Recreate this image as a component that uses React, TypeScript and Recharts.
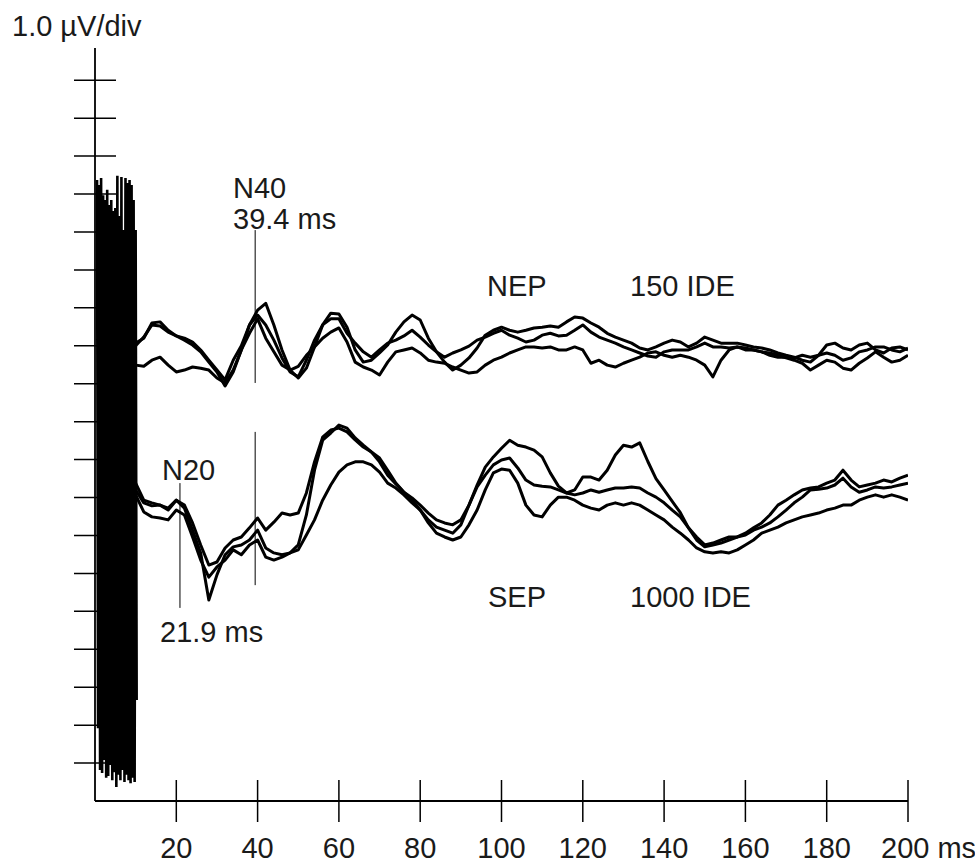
import { LineChart, Line, XAxis, YAxis, ReferenceLine } from "recharts";

const FONT = '"Liberation Sans", Arial, Helvetica, sans-serif';
const INK = "#000";
const TEXT = "#1a1a1a";

// sampling grid of the averaged traces (ms)
const TIMES = Array.from({ length: 96 }, (_, i) => 10 + i * 2);
// stimulus artefact is sampled finer (ms)
const ARTEFACT_TIMES = Array.from({ length: 40 }, (_, i) => 0.5 + i * 0.25);

// µV, relative to the artefact centre line
const ARTEFACT = [
  7.87, -6.58, 7.74, -7.68, 7.92, -7.76, 7.47, -7.42, 7.34, -7.89,
  7.61, -7.84, 7.21, -7.55, 7.34, -7.95, 7.05, -7.74, 7.13, -8.13,
  7.98, -7.81, 6.92, -7.95, 7.95, -7.68, 6.55, -8.0, 7.92, -7.81,
  7.79, -7.95, 7.87, -8.03, 7.74, -7.89, 7.34, -8.0, 6.55, -5.84,
];

// NEP, 150 IDE (µV, relative to baseline)
const NEP_1 = [
  0.0, 0.23, 0.55, 0.52, 0.36, 0.26, 0.2, 0.1, -0.11, -0.38,
  -0.64, -0.9, -0.38, 0.0, 0.55, 0.94, 1.12, 0.55, -0.11, -0.64,
  -0.85, -0.59, -0.03, 0.55, 0.86, 0.84, 0.49, -0.11, -0.43, -0.38,
  -0.19, 0.02, 0.36, 0.63, 0.81, 0.68, 0.2, -0.16, -0.43, -0.64,
  -0.51, -0.32, -0.06, 0.28, 0.41, 0.49, 0.41, 0.36, 0.41, 0.47,
  0.49, 0.52, 0.49, 0.63, 0.76, 0.73, 0.6, 0.49, 0.33, 0.23,
  0.15, 0.07, -0.06, -0.11, -0.03, 0.07, 0.15, 0.1, -0.03, 0.07,
  0.23, 0.15, 0.07, 0.07, 0.07, 0.02, -0.03, -0.06, -0.11, -0.19,
  -0.25, -0.3, -0.38, -0.43, -0.25, 0.02, 0.07, -0.06, -0.11, 0.02,
  0.07, -0.11, -0.19, -0.06, -0.03, -0.11,
];
const NEP_2 = [
  0.07, 0.2, 0.6, 0.63, 0.41, 0.26, 0.15, 0.02, -0.16, -0.43,
  -0.69, -1.06, -0.69, -0.11, 0.55, 0.81, 0.55, 0.15, -0.32, -0.69,
  -0.82, -0.38, 0.15, 0.55, 0.71, 0.71, 0.33, 0.07, -0.16, -0.3,
  -0.11, 0.07, 0.15, 0.26, 0.41, 0.23, 0.02, -0.16, -0.3, -0.19,
  -0.11, -0.01, 0.15, 0.23, 0.33, 0.41, 0.28, 0.2, 0.1, 0.15,
  0.28, 0.33, 0.26, 0.28, 0.41, 0.55, 0.36, 0.23, 0.15, 0.07,
  -0.03, -0.11, -0.19, -0.27, -0.3, -0.16, -0.11, -0.11, -0.11, -0.03,
  0.07, -0.03, -0.03, -0.06, -0.03, -0.11, -0.11, -0.16, -0.25, -0.3,
  -0.3, -0.32, -0.25, -0.3, -0.25, -0.19, -0.25, -0.38, -0.32, -0.16,
  -0.11, -0.03, -0.03, -0.11, -0.16, -0.06,
];
const NEP_3 = [
  -0.51, -0.54, -0.38, -0.3, -0.51, -0.69, -0.64, -0.56, -0.59, -0.64,
  -0.85, -0.98, -0.64, -0.11, 0.33, 0.71, 0.2, -0.16, -0.51, -0.64,
  -0.54, -0.25, -0.03, 0.2, 0.36, 0.47, 0.1, -0.43, -0.56, -0.64,
  -0.77, -0.43, -0.16, -0.11, -0.06, -0.19, -0.38, -0.43, -0.46, -0.56,
  -0.64, -0.72, -0.69, -0.51, -0.38, -0.3, -0.19, -0.11, -0.03, -0.03,
  -0.06, -0.03, -0.11, -0.11, -0.03, -0.11, -0.46, -0.38, -0.51, -0.56,
  -0.46, -0.38, -0.3, -0.19, -0.16, -0.25, -0.3, -0.25, -0.3, -0.38,
  -0.51, -0.82, -0.38, -0.11, -0.03, -0.06, -0.11, -0.16, -0.19, -0.25,
  -0.32, -0.38, -0.46, -0.64, -0.51, -0.38, -0.43, -0.59, -0.64, -0.46,
  -0.32, -0.16, -0.3, -0.43, -0.38, -0.25,
];

// SEP, 1000 IDE (µV, relative to baseline)
const SEP_1 = [
  0.38, -0.07, -0.14, -0.2, -0.28, -0.07, -0.2, -0.67, -1.25, -1.78,
  -1.7, -1.33, -1.12, -1.04, -0.8, -0.54, -0.86, -0.65, -0.41, -0.46,
  -0.41, 0.12, 0.94, 1.59, 1.78, 1.83, 1.73, 1.52, 1.33, 1.2,
  0.94, 0.59, 0.36, 0.14, -0.01, -0.2, -0.41, -0.59, -0.67, -0.72,
  -0.59, -0.2, 0.28, 0.59, 0.86, 0.99, 1.04, 0.78, 0.46, 0.33,
  0.3, 0.28, 0.2, 0.12, 0.07, 0.12, 0.2, 0.14, 0.2, 0.25,
  0.25, 0.28, 0.25, 0.12, 0.01, -0.14, -0.33, -0.51, -0.8, -1.04,
  -1.25, -1.2, -1.12, -1.04, -1.04, -0.99, -0.86, -0.78, -0.67, -0.51,
  -0.33, -0.14, 0.01, 0.2, 0.22, 0.25, 0.33, 0.51, 0.28, 0.14,
  0.2, 0.28, 0.25, 0.28, 0.33, 0.38,
];
const SEP_2 = [
  0.2, -0.14, -0.22, -0.2, -0.33, -0.07, -0.28, -0.86, -1.46, -2.7,
  -2.04, -1.51, -1.3, -1.25, -1.12, -0.86, -1.33, -1.46, -1.51, -1.46,
  -1.25, -0.46, 0.72, 1.51, 1.7, 1.91, 1.83, 1.57, 1.38, 1.2,
  1.04, 0.72, 0.38, 0.14, -0.07, -0.33, -0.59, -0.78, -0.86, -0.94,
  -0.72, -0.2, 0.33, 0.8, 1.07, 1.3, 1.51, 1.38, 1.33, 1.25,
  1.07, 0.65, 0.3, 0.12, 0.2, 0.54, 0.54, 0.46, 0.72, 1.12,
  1.38, 1.33, 1.44, 0.95, 0.5, 0.2, -0.1, -0.4, -0.8, -1.12,
  -1.3, -1.25, -1.2, -1.12, -1.04, -0.94, -0.8, -0.67, -0.46, -0.2,
  -0.07, 0.07, 0.2, 0.25, 0.28, 0.38, 0.46, 0.72, 0.46, 0.28,
  0.33, 0.38, 0.46, 0.41, 0.51, 0.59,
];
const SEP_3 = [
  0.07, -0.38, -0.51, -0.54, -0.59, -0.33, -0.46, -1.04, -1.65, -2.1,
  -1.83, -1.65, -1.38, -1.51, -1.25, -1.12, -1.57, -1.65, -1.57, -1.46,
  -1.38, -0.99, -0.59, -0.07, 0.33, 0.67, 0.86, 0.94, 0.94, 0.86,
  0.67, 0.38, 0.25, 0.07, -0.14, -0.33, -0.67, -0.94, -1.04, -1.12,
  -1.04, -0.72, -0.33, 0.2, 0.65, 0.75, 0.72, 0.38, -0.2, -0.46,
  -0.51, -0.2, 0.01, 0.01, -0.07, -0.2, -0.28, -0.33, -0.2, -0.14,
  -0.2, -0.14, -0.2, -0.33, -0.46, -0.59, -0.78, -0.94, -1.12, -1.33,
  -1.43, -1.46, -1.43, -1.46, -1.38, -1.25, -1.12, -0.94, -0.86, -0.78,
  -0.67, -0.59, -0.51, -0.46, -0.41, -0.33, -0.28, -0.2, -0.2, -0.07,
  0.01, 0.07, 0.01, 0.07, 0.01, -0.07,
];

// vertical stacking of the two groups (divisions above the time axis)
const NEP_OFFSET = 12;
const SEP_OFFSET = 8;
const ARTEFACT_OFFSET = 8.5;

const X_TICKS = [20, 40, 60, 80, 100, 120, 140, 160, 180, 200];
const Y_TICKS = [1, 2, 3, 4, 5, 6, 7, 8, 9, 10, 11, 12, 13, 14, 15, 16, 17, 18, 19];

// latency markers: time (ms) and vertical extent (divisions)
const MARKERS = [
  { t: 39.4, lo: 11.02, hi: 15.05 },
  { t: 39.4, lo: 5.69, hi: 9.73 },
  { t: 20.9, lo: 5.09, hi: 8.38 },
];

const rows = (times: number[], vals: number[], off: number) =>
  vals.map((v, i) => ({ t: times[i], v: v + off }));

const traces = [
  ...[NEP_1, NEP_2, NEP_3].map((s) => rows(TIMES, s, NEP_OFFSET)),
  ...[SEP_1, SEP_2, SEP_3].map((s) => rows(TIMES, s, SEP_OFFSET)),
];
const artefact = rows(ARTEFACT_TIMES, ARTEFACT, ARTEFACT_OFFSET);

const XTick = ({ x, y, payload }: any) => {
  const last = payload.value === 200;
  return (
    <g>
      <line x1={x} x2={x} y1={y - 21} y2={y + 21} stroke={INK} strokeWidth={1.5} />
      <text
        x={last ? x - 27 : x}
        y={y + 57}
        textAnchor={last ? "start" : "middle"}
        fontFamily={FONT}
        fontSize={29}
        fill={TEXT}
      >
        {last ? "200 ms" : payload.value}
      </text>
    </g>
  );
};

const YTick = ({ x, y }: any) => (
  <line x1={x - 21} x2={x + 21} y1={y} y2={y} stroke={INK} strokeWidth={1.5} />
);

const labelStyle = { fontFamily: FONT, fontSize: 29, fill: TEXT };

export default function App() {
  return (
    <div style={{ position: "absolute", left: 0, top: 0, width: 975, height: 867, background: "#fff" }}>
      <LineChart width={975} height={867} margin={{ top: 48, right: 67, bottom: 65, left: 94 }}>
        <XAxis
          type="number"
          dataKey="t"
          domain={[0, 200]}
          ticks={X_TICKS}
          allowDataOverflow
          height={1}
          tickSize={0}
          tickMargin={0}
          tickLine={false}
          axisLine={{ stroke: INK, strokeWidth: 1.8 }}
          tick={<XTick />}
          interval={0}
        />
        <YAxis
          type="number"
          domain={[0, 19.85]}
          ticks={Y_TICKS}
          allowDataOverflow
          width={1}
          tickSize={0}
          tickMargin={0}
          tickLine={false}
          axisLine={{ stroke: INK, strokeWidth: 1.8 }}
          tick={<YTick />}
          interval={0}
        />
        {MARKERS.map((m, i) => (
          <ReferenceLine
            key={i}
            segment={[{ x: m.t, y: m.lo }, { x: m.t, y: m.hi }]}
            stroke={INK}
            strokeWidth={1}
          />
        ))}
        <Line
          data={artefact}
          dataKey="v"
          type="linear"
          stroke={INK}
          strokeWidth={2.6}
          dot={false}
          isAnimationActive={false}
        />
        {traces.map((d, i) => (
          <Line
            key={i}
            data={d}
            dataKey="v"
            type="linear"
            stroke={INK}
            strokeWidth={3}
            strokeLinejoin="round"
            dot={false}
            isAnimationActive={false}
          />
        ))}
      </LineChart>
      <svg width={975} height={867} style={{ position: "absolute", left: 0, top: 0, pointerEvents: "none" }}>
        <text x={12} y={36} {...labelStyle}>1.0 µV/div</text>
        <text x={233} y={198} {...labelStyle}>N40</text>
        <text x={233} y={229} {...labelStyle}>39.4 ms</text>
        <text x={487} y={296} {...labelStyle}>NEP</text>
        <text x={630} y={296} {...labelStyle}>150 IDE</text>
        <text x={162} y={480} {...labelStyle}>N20</text>
        <text x={160} y={642} {...labelStyle}>21.9 ms</text>
        <text x={488} y={607} {...labelStyle}>SEP</text>
        <text x={630} y={607} {...labelStyle}>1000 IDE</text>
      </svg>
    </div>
  );
}
